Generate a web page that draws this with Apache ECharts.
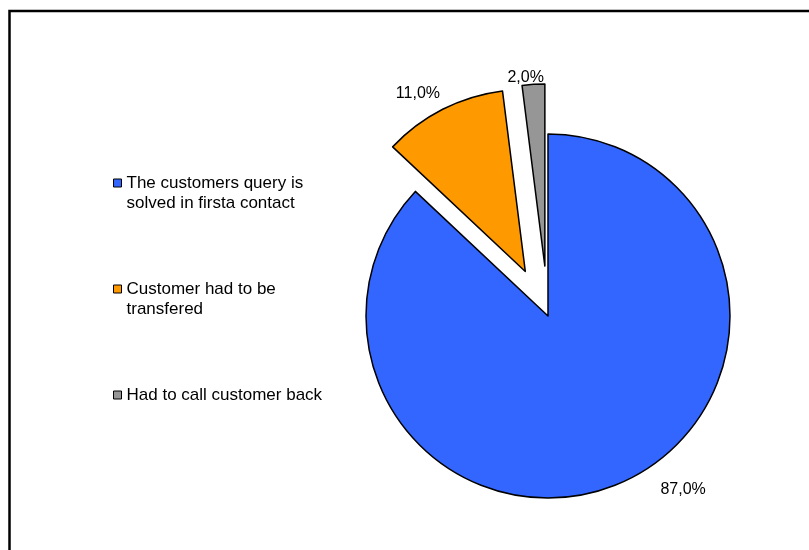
<!DOCTYPE html>
<html>
<head>
<meta charset="utf-8">
<script src="https://cdn.jsdelivr.net/npm/echarts@6/dist/echarts.min.js"></script>
<style>
html,body{margin:0;padding:0;background:#fff;}
#main{width:809px;height:550px;}
</style>
</head>
<body>
<div id="main"></div>
<script>
// Data
const categories = [
  "The customers query is\nsolved in firsta contact",
  "Customer had to be\ntransfered",
  "Had to call customer back"
];
const values = [87.0, 11.0, 2.0];
const exploded = [false, true, true];

// Styles
const colors = ["#3366FF", "#FF9900", "#969696"];
const labelNudge = [[32, -1], [6, -9], [16, 1]];

const chart = echarts.init(document.getElementById('main'), null, {renderer: 'canvas'});

const fmt = v => v.toFixed(1).replace('.', ',') + '%';

const pieData = categories.map((name, i) => ({
  name: name,
  value: values[i],
  selected: exploded[i],
  itemStyle: {color: colors[i]}
}));

const legendData = categories.map((name, i) => ({
  name: name,
  itemStyle: {color: colors[i], borderColor: '#000', borderWidth: 1}
}));

chart.setOption({
  animation: false,
  backgroundColor: '#fff',
  graphic: [{
    type: 'rect',
    shape: {x: 9.5, y: 11, width: 900, height: 900},
    style: {fill: 'none', stroke: '#000', lineWidth: 2.5},
    silent: true
  }],
  legend: {
    orient: 'vertical',
    left: 113,
    top: 153,
    padding: 0,
    itemGap: 46,
    itemWidth: 8,
    itemHeight: 8,
    icon: 'rect',
    selectedMode: false,
    data: legendData,
    formatter: name => '\n' + name + (name.indexOf('\n') < 0 ? '\n ' : ''),
    textStyle: {
      fontFamily: 'Liberation Sans, Arial, sans-serif',
      fontSize: 17,
      lineHeight: 20,
      color: '#000',
      padding: [0, 0, 0, 0]
    }
  },
  series: [{
    type: 'pie',
    center: [548, 316],
    radius: 182,
    startAngle: 90,
    clockwise: true,
    selectedMode: 'multiple',
    selectedOffset: 50,
    avoidLabelOverlap: false,
    emphasis: {disabled: true},
    itemStyle: {borderColor: '#000', borderWidth: 1.5},
    label: {
      show: true,
      position: 'outside',
      formatter: p => fmt(p.value),
      fontFamily: 'Liberation Sans, Arial, sans-serif',
      fontSize: 16,
      color: '#000'
    },
    labelLine: {show: false, length: 8, length2: 0},
    labelLayout: p => ({dx: labelNudge[p.dataIndex][0], dy: labelNudge[p.dataIndex][1]}),
    data: pieData
  }]
});
</script>
</body>
</html>
